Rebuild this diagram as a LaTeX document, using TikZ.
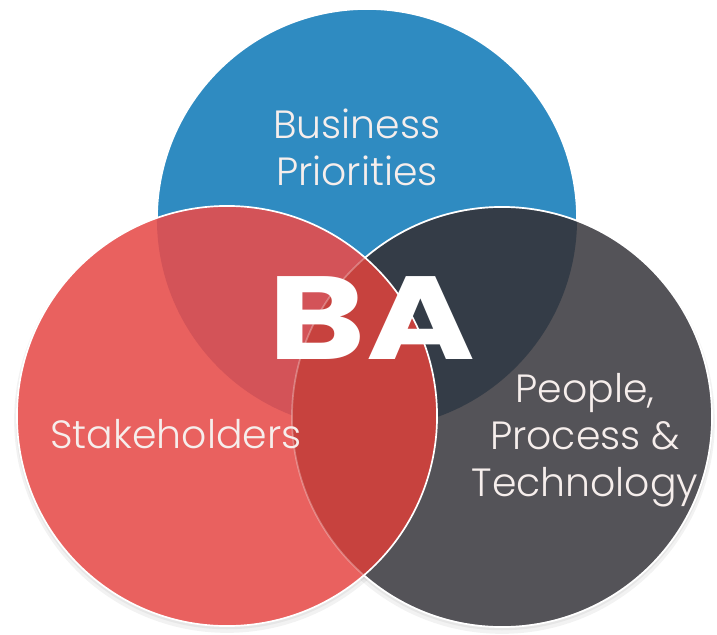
\documentclass[tikz,border=0pt]{standalone}
\usepackage{fontspec}
\setmainfont{Poppins}
\newfontfamily\lightfont{Poppins Light}
\usetikzlibrary{positioning}
\definecolor{bpblue}{RGB}{47,139,193}
\definecolor{shred}{RGB}{233,97,95}
\definecolor{pptgrey}{RGB}{84,83,88}
\definecolor{blueredcolor}{RGB}{211,83,88}
\definecolor{bluegreycolor}{RGB}{52,60,71}
\definecolor{redgreycolor}{RGB}{199,66,62}
\definecolor{labelcolor}{RGB}{246,238,236}

\begin{document}
\begin{tikzpicture}[x=0.025cm, y=-0.025cm,
    venn/.style={draw=white, line width=1.2pt},
    label text/.style={text=labelcolor, align=center,
      font=\lightfont\fontsize{28}{33.4}\selectfont}]
    \useasboundingbox (0,0) rectangle (717,635);
    \def\rad{5.25cm}

    % Define the circle centres
    \coordinate (B) at (367,219);
    \coordinate (S) at (227,416);
    \coordinate (P) at (502,417);

    % Soft shadows
    \foreach \c in {S, P} {
      \fill[black, opacity=0.05] ([yshift=-0.1cm]\c) circle (5.32cm);
      \fill[black, opacity=0.05] ([yshift=-0.05cm]\c) circle (5.28cm);
    }

    % Draw the circles
    \fill[bpblue, venn] (B) circle (\rad);
    \fill[pptgrey] (P) circle (\rad);
    \begin{scope}
      \clip (B) circle (\rad);
      \fill[bluegreycolor] (P) circle (\rad);
    \end{scope}
    \draw[venn] (P) circle (\rad);
    \fill[shred] (S) circle (\rad);

    % Overlaps with the red circle
    \begin{scope}
      \clip (B) circle (\rad);
      \fill[blueredcolor] (S) circle (\rad);
    \end{scope}
    \begin{scope}
      \clip (P) circle (\rad);
      \fill[redgreycolor] (S) circle (\rad);
    \end{scope}
    \draw[venn] (S) circle (\rad);
    \draw[venn, opacity=0.3] (P) circle (\rad);

    % Add labels
    \node[label text] (bp) at (357,147) {Business\\Priorities};
    \node[label text] (sh) at (176,434) {Stakeholders};
    \node[label text] (ppt) at (585,440) {People,\\Process \&\\Technology};
    \node[text=white, font=\bfseries\fontsize{84}{84}\selectfont] (ba) at (372,318) {\scalebox{1.25}[1]{BA}};
\end{tikzpicture}
\end{document}
